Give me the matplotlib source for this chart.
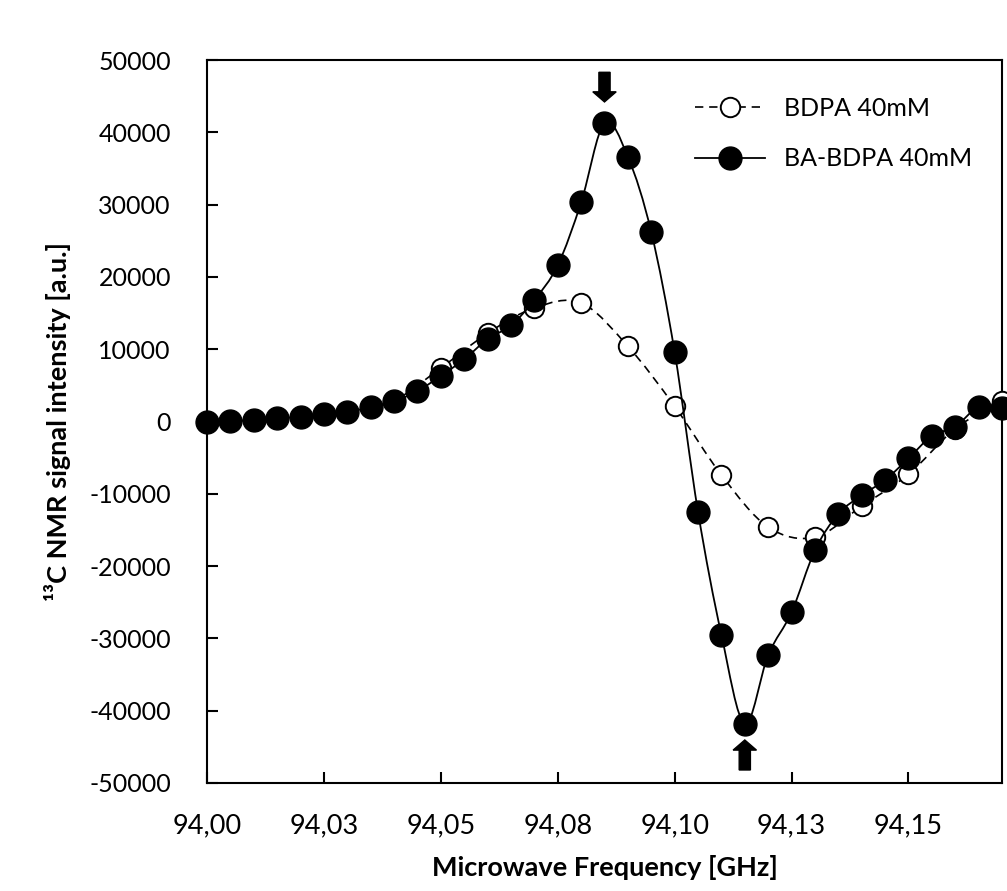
import numpy as np
import matplotlib
matplotlib.use("Agg")
import matplotlib.pyplot as plt
from matplotlib.path import Path
from matplotlib.patches import PathPatch
from matplotlib.lines import Line2D

plt.rcParams['font.family'] = ['Lato', 'DejaVu Sans']
plt.rcParams['axes.unicode_minus'] = False

# BA-BDPA 40mM, every 5 MHz
freq_ba = [94.000, 94.005, 94.010, 94.015, 94.020, 94.025, 94.030, 94.035,
           94.040, 94.045, 94.050, 94.055, 94.060, 94.065, 94.070, 94.075,
           94.080, 94.085, 94.090, 94.095, 94.100, 94.105, 94.110, 94.115,
           94.120, 94.125, 94.130, 94.135, 94.140, 94.145, 94.150, 94.155,
           94.160, 94.165, 94.170]
ba_bdpa = [0, 50, 200, 500, 600, 1000, 1300, 2000,
           2800, 4200, 6300, 8600, 11400, 13300, 16800, 21600,
           30300, 41300, 36600, 26200, 9600, -12500, -29500, -41800,
           -32300, -26400, -17800, -12800, -10200, -8100, -5100, -2000,
           -700, 2000, 1800]

# BDPA 40mM, every 10 MHz
freq_bdpa = [94.00, 94.01, 94.02, 94.03, 94.04, 94.05, 94.06, 94.07, 94.08,
             94.09, 94.10, 94.11, 94.12, 94.13, 94.14, 94.15, 94.16, 94.17]
bdpa = [0, 200, 600, 1300, 2900, 7400, 12200, 15700, 16400,
        10400, 2100, -7400, -14600, -16000, -11700, -7300, -1000, 2900]

xtick_vals = [94.000, 94.025, 94.050, 94.075, 94.100, 94.125, 94.150]
xtick_labels = ["94,00", "94,03", "94,05", "94,08", "94,10", "94,13", "94,15"]
ytick_vals = [-50000, -40000, -30000, -20000, -10000, 0,
              10000, 20000, 30000, 40000, 50000]


def smooth_path(x, y):
    """excel-like smoothed line as cubic bezier path"""
    x = np.asarray(x, dtype=float)
    y = np.asarray(y, dtype=float)
    n = len(x)
    verts = [(x[0], y[0])]
    codes = [Path.MOVETO]
    for i in range(n - 1):
        j0 = max(i - 1, 0)
        j3 = min(i + 2, n - 1)
        c1 = (x[i] + (x[i + 1] - x[j0]) / 6, y[i] + (y[i + 1] - y[j0]) / 6)
        c2 = (x[i + 1] - (x[j3] - x[i]) / 6, y[i + 1] - (y[j3] - y[i]) / 6)
        verts += [c1, c2, (x[i + 1], y[i + 1])]
        codes += [Path.CURVE4] * 3
    return Path(verts, codes)


fig = plt.figure(figsize=(10.07, 8.91), dpi=100)
ax = fig.add_axes([207 / 1007, 1 - 783 / 891, 795 / 1007, 723 / 891])

dash = (0, (5, 3.5))
ax.add_patch(PathPatch(smooth_path(freq_bdpa, bdpa), facecolor='none',
                       edgecolor='black', lw=1.2, linestyle=dash, zorder=2))
ax.plot(freq_bdpa, bdpa, ls='none', marker='o', ms=14, mfc='white',
        mec='black', mew=1.4, zorder=3, clip_on=False)
ax.add_patch(PathPatch(smooth_path(freq_ba, ba_bdpa), facecolor='none',
                       edgecolor='black', lw=1.3, zorder=4))
ax.plot(freq_ba, ba_bdpa, ls='none', marker='o', ms=16.5, mfc='black',
        mec='black', zorder=5, clip_on=False)

# arrows at max / min
ax.arrow(94.085, 48300, 0, -4100, width=0.0024, head_width=0.0050,
         head_length=1400, length_includes_head=True, fc='black', ec='black',
         zorder=6, clip_on=False)
ax.arrow(94.115, -48200, 0, 4150, width=0.0024, head_width=0.0050,
         head_length=1400, length_includes_head=True, fc='black', ec='black',
         zorder=6, clip_on=False)

ax.set_xlim(94.0, 94.17)
ax.set_ylim(-50000, 50000)
ax.set_xticks(xtick_vals)
ax.set_xticklabels(xtick_labels, fontsize=19.5)
ax.set_yticks(ytick_vals)
ax.set_yticklabels([str(v) for v in ytick_vals], fontsize=18)
ax.tick_params(axis='both', direction='in', length=8, width=1.5,
               top=False, right=False)
ax.tick_params(axis='x', pad=22)
ax.tick_params(axis='y', pad=26)
for s in ax.spines.values():
    s.set_linewidth(1.5)

ax.set_xlabel("Microwave Frequency [GHz]", fontsize=19.5, fontweight='bold',
              labelpad=12)
ax.set_ylabel("¹³C NMR signal intensity [a.u.]", fontsize=19.5,
              fontweight='bold', labelpad=13)

handles = [
    Line2D([], [], color='black', lw=1.2, ls=dash, marker='o', ms=14,
           mfc='white', mec='black', mew=1.4),
    Line2D([], [], color='black', lw=1.3, marker='o', ms=16.5, mfc='black'),
]
ax.legend(handles, ["BDPA 40mM", "BA-BDPA 40mM"], loc='upper left',
          bbox_to_anchor=(695 / 1007, 1 - 97 / 891),
          bbox_transform=fig.transFigure, frameon=False, fontsize=18,
          handlelength=2.8, handletextpad=0.75, labelspacing=1.1,
          borderpad=0, borderaxespad=0)

plt.savefig("out.png", dpi=100)
